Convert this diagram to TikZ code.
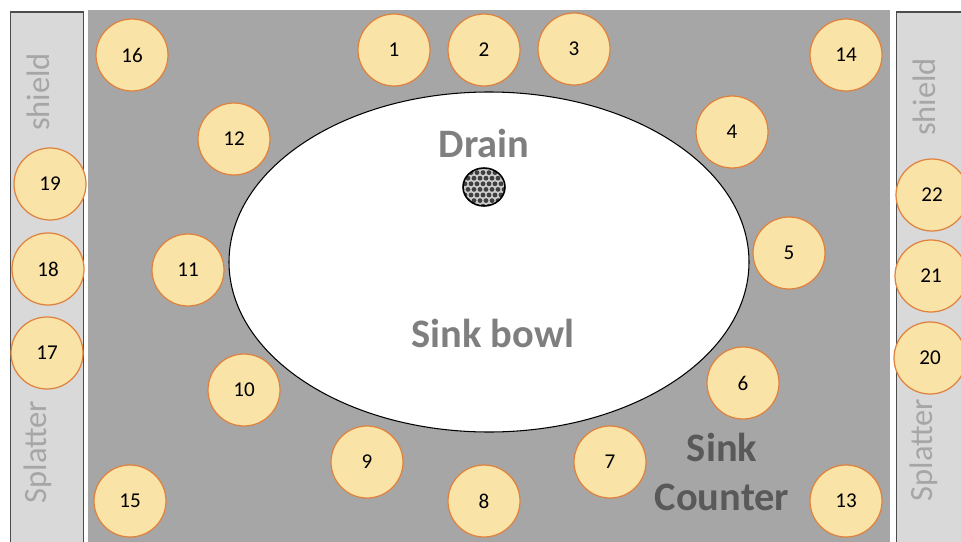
\documentclass[tikz,border=0pt]{standalone}
\usepackage{fontspec}
\setmainfont{Carlito}
\usepackage{tikz}
\definecolor{counter}{HTML}{A6A6A6}
\definecolor{shieldbg}{HTML}{D9D9D9}
\definecolor{seatfill}{HTML}{F9E3A7}
\definecolor{seatline}{HTML}{E0823D}
\definecolor{bigtext}{HTML}{7F7F7F}
\definecolor{darktext}{HTML}{595959}

\begin{document}
\begin{tikzpicture}[
  x=0.2mm, y=-0.2mm,
  seat/.style={circle, draw=seatline, fill=seatfill, line width=0.7pt,
               minimum size=72*0.2mm, inner sep=0pt, font=\fontsize{12}{14}\selectfont},
  panel/.style={draw=black!70, fill=shieldbg, line width=0.6pt},
  shieldtxt/.style={rotate=90, text=counter, font=\fontsize{18.5}{20}\selectfont},
  big/.style={font=\fontsize{23}{26}\selectfont\bfseries}
]
\useasboundingbox (0,0) rectangle (961,542);
\fill[white] (0,0) rectangle (961,542);

% counter and the two splatter shields
\fill[counter] (88,10) rectangle (890,545);
\draw[panel] (10.5,12) rectangle (83.5,550);
\draw[panel] (896.5,12) rectangle (970,550);

% sink bowl and drain
\draw[fill=white, line width=0.6pt] (489,262) ellipse [x radius=260, y radius=170];
\begin{scope}
  \clip (484,187) ellipse [x radius=21, y radius=19];
  \fill[black!20] (460,165) rectangle (510,210);
  \foreach \r in {0,...,7}
    \foreach \c in {0,...,8}
      \fill[black!75] ({462+\c*6+mod(\r,2)*3},{167+\r*5.6}) circle (2.4);
\end{scope}
\draw[line width=0.9pt] (484,187) ellipse [x radius=21, y radius=19];

\node[big, text=bigtext] (drain) at (484,143) {Drain};
\node[big, text=bigtext] (bowl) at (493,333) {Sink bowl};
\node[big, text=darktext, align=center] (ctr) at (722,472) {Sink\\[2pt]Counter};

\node[shieldtxt] (lshield) at (38,92) {shield};
\node[shieldtxt] (lsplat) at (38,452) {Splatter};
\node[shieldtxt] (rshield) at (924,97) {shield};
\node[shieldtxt] (rsplat) at (924,450) {Splatter};

% numbered positions
\foreach \n/\px/\py in {1/394/50, 2/484/50, 3/574/49, 4/732/132, 5/789/253,
    6/743/383, 7/610/462, 8/484/501, 9/367/462, 10/244/390, 11/188/270,
    12/234/139, 13/846/501, 14/846/55, 15/130/501, 16/132/55, 17/47/353,
    18/48/269, 19/50/184, 20/930/358, 21/931/276, 22/932/195}
  \node[seat] (c\n) at (\px,\py) {\n};
\end{tikzpicture}
\end{document}
